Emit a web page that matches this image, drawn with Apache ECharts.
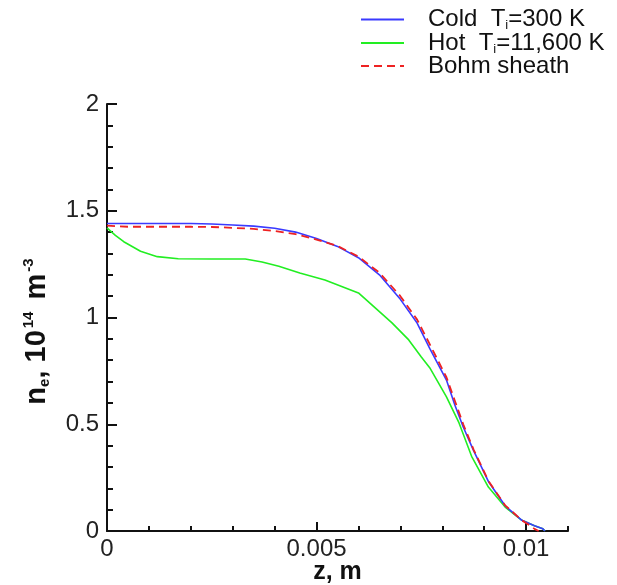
<!DOCTYPE html>
<html>
<head>
<meta charset="utf-8">
<script src="https://cdn.jsdelivr.net/npm/echarts@6/dist/echarts.min.js"></script>
<style>
html,body{margin:0;padding:0;background:#fff;}
#chart{width:617px;height:585px;}
</style>
</head>
<body>
<div id="chart"></div>
<script>
// ---- data (z in m, n_e in 1e14 m^-3) ----
var seriesNames = ['Cold Ti=300 K', 'Hot Ti=11,600 K', 'Bohm sheath'];
var legendParts = [['Cold  T', 'i', '=300 K'], ['Hot  T', 'i', '=11,600 K'], ['Bohm sheath', '', '']];

var coldZ = [0, 0.0005, 0.001, 0.0015, 0.002, 0.0025, 0.003, 0.0035, 0.004, 0.0045, 0.005, 0.0055, 0.006, 0.0065, 0.007, 0.0074, 0.0077, 0.0081, 0.0083, 0.0085, 0.00875, 0.0091, 0.0095, 0.0099, 0.0102, 0.0104, 0.01045];
var coldN = [1.44, 1.44, 1.44, 1.44, 1.44, 1.438, 1.433, 1.428, 1.418, 1.40, 1.37, 1.333, 1.28, 1.20, 1.085, 0.974, 0.855, 0.707, 0.59, 0.487, 0.375, 0.232, 0.118, 0.05, 0.025, 0.01, 0];

var hotZ = [0, 0.0002, 0.0004, 0.0008, 0.0012, 0.0017, 0.0025, 0.0033, 0.0037, 0.0041, 0.0046, 0.0052, 0.006, 0.0064, 0.0068, 0.0072, 0.0075, 0.0077, 0.0081, 0.0084, 0.0087, 0.0091, 0.0095, 0.0099, 0.0102, 0.0104, 0.01045];
var hotN = [1.42, 1.385, 1.355, 1.31, 1.285, 1.275, 1.274, 1.274, 1.26, 1.24, 1.208, 1.176, 1.115, 1.045, 0.975, 0.895, 0.815, 0.765, 0.628, 0.506, 0.35, 0.206, 0.112, 0.05, 0.025, 0.01, 0];

var bohmZ = [0, 0.0005, 0.001, 0.0015, 0.002, 0.0025, 0.003, 0.0035, 0.004, 0.0045, 0.005, 0.0055, 0.006, 0.0065, 0.007, 0.0074, 0.0077, 0.0081, 0.0083, 0.0085, 0.00875, 0.0091, 0.0095, 0.0099, 0.0101, 0.0102, 0.0103];
var bohmN = [1.43, 1.425, 1.425, 1.425, 1.425, 1.424, 1.42, 1.415, 1.405, 1.39, 1.365, 1.335, 1.285, 1.21, 1.10, 0.99, 0.875, 0.72, 0.61, 0.50, 0.38, 0.235, 0.12, 0.05, 0.025, 0.01, 0];

var xLabelValues = [0, 0.005, 0.01];
var yLabelValues = [0, 0.5, 1, 1.5, 2];

function pairs(z, n) { return z.map(function (v, i) { return [v, n[i]]; }); }

var FONT = '"Liberation Sans", Arial, sans-serif';
var chart = echarts.init(document.getElementById('chart'), null, {renderer: 'canvas'});

var legendRich = {
  t: {fontSize: 24, fontFamily: FONT, color: '#111', lineHeight: 22},
  s: {fontSize: 13, fontFamily: FONT, color: '#111', lineHeight: 13, padding: [12, 0, 0, 0]}
};

var option = {
  backgroundColor: '#ffffff',
  animation: false,
  grid: {left: 107, right: 49, top: 104, bottom: 54, outerBoundsMode: 'none', containLabel: false},
  legend: {
    orient: 'vertical',
    left: 355,
    top: 2,
    itemWidth: 43,
    itemHeight: 14,
    itemGap: -1.5,
    data: seriesNames,
    itemStyle: {opacity: 0},
    textStyle: {rich: legendRich, padding: [0, 0, 0, 19]},
    formatter: function (name) {
      var p = legendParts[seriesNames.indexOf(name)];
      var s = '{t|' + p[0] + '}';
      if (p[1]) s += '{s|' + p[1] + '}';
      if (p[2]) s += '{t|' + p[2] + '}';
      return s;
    }
  },
  xAxis: [{
    type: 'value', min: 0, max: 0.011, interval: 0.001, position: 'bottom',
    splitLine: {show: false},
    axisLine: {show: true, onZero: false, lineStyle: {color: '#111', width: 2}},
    axisTick: {show: true, inside: true, length: 5, lineStyle: {color: '#111', width: 2}},
    axisLabel: {customValues: xLabelValues, color: '#222', fontSize: 24, fontFamily: FONT, margin: 6,
      formatter: function (v) { return String(v); }}
  }, {
    type: 'value', min: 0, max: 0.011, position: 'bottom',
    name: 'z, m', nameLocation: 'middle', nameGap: 29,
    nameTextStyle: {fontSize: 25, fontWeight: 'bold', fontFamily: FONT, color: '#111'},
    splitLine: {show: false},
    axisLine: {show: false, onZero: false},
    axisTick: {show: true, inside: true, length: 9, customValues: xLabelValues, lineStyle: {color: '#111', width: 2}},
    axisLabel: {show: false}
  }],
  yAxis: {
    type: 'value', min: 0, max: 2, interval: 0.5,
    name: '{t|n}{s|e}{t|, 10}{p|14}{t| m}{p|-3}',
    nameLocation: 'middle', nameRotate: 90, nameGap: 56,
    nameTextStyle: {
      padding: [0, 24, 0, 0],
      rich: {
        t: {fontSize: 29, fontWeight: 'bold', fontFamily: FONT, color: '#111', lineHeight: 29},
        s: {fontSize: 15, fontWeight: 'bold', fontFamily: FONT, color: '#111', lineHeight: 15, padding: [16, 0, 0, 0]},
        p: {fontSize: 15, fontWeight: 'bold', fontFamily: FONT, color: '#111', lineHeight: 15, padding: [0, 4, 16, 2]}
      }
    },
    splitLine: {show: false},
    axisLine: {show: true, onZero: false, lineStyle: {color: '#111', width: 2}},
    axisTick: {show: true, inside: true, length: 10, lineStyle: {color: '#111', width: 2}},
    minorTick: {show: true, splitNumber: 5, length: 6, lineStyle: {color: '#111', width: 2}},
    axisLabel: {customValues: yLabelValues, color: '#222', fontSize: 24, fontFamily: FONT, margin: 8,
      formatter: function (v) { return String(v); }}
  },
  series: [{
    name: seriesNames[0], type: 'line', symbol: 'none', showSymbol: false, z: 3,
    data: pairs(coldZ, coldN),
    lineStyle: {color: '#3a3aff', width: 1.6}, itemStyle: {color: '#3a3aff'}
  }, {
    name: seriesNames[1], type: 'line', symbol: 'none', showSymbol: false, z: 2,
    data: pairs(hotZ, hotN),
    lineStyle: {color: '#22ee22', width: 1.6}, itemStyle: {color: '#22ee22'}
  }, {
    name: seriesNames[2], type: 'line', symbol: 'none', showSymbol: false, z: 4,
    data: pairs(bohmZ, bohmN),
    lineStyle: {color: '#ee2222', width: 1.8, type: [8, 5]}, itemStyle: {color: '#ee2222'}
  }]
};
chart.setOption(option);
</script>
</body>
</html>
